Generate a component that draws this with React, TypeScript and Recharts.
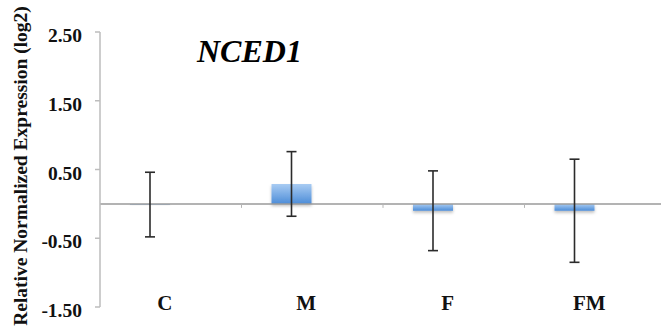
import { ComposedChart, Bar, XAxis, YAxis, ReferenceLine, ErrorBar, Customized } from 'recharts';

const groups = ['C', 'M', 'F', 'FM'];
const expression = [-0.01, 0.29, -0.1, -0.1];
const errors = [0.47, 0.47, 0.58, 0.75];
const yTicks = [2.5, 1.5, 0.5, -0.5, -1.5];

const data = groups.map((g, i) => ({ group: g, value: expression[i], err: errors[i], blank: null }));

const serif = '"Liberation Serif", "Times New Roman", serif';

function YTick({ x, y, payload }: any) {
  return (
    <text x={x} y={y} dy={10} textAnchor="end" fontFamily={serif} fontWeight="bold" fontSize={19.5} fill="#111">
      {Number(payload.value).toFixed(2)}
    </text>
  );
}

function XTick({ x, y, payload }: any) {
  return (
    <text x={x} y={y} dx={-6} dy={3} textAnchor="middle" fontFamily={serif} fontWeight="bold" fontSize={21} fill="#111">
      {payload.value}
    </text>
  );
}

// zero line with small marks between categories
function ZeroLine(props: any) {
  const { x1, y1, x2, y2 } = props;
  const step = (x2 - x1) / groups.length;
  const marks = groups.slice(1).map((_, i) => x1 + step * (i + 1));
  return (
    <g>
      <line x1={x1} y1={y1} x2={x2} y2={y2} stroke="#9a9a9a" strokeWidth={1.5} />
      {marks.map((mx) => (
        <line key={mx} x1={mx} y1={y1} x2={mx} y2={y1 + 4} stroke="#b5b5b5" strokeWidth={1} />
      ))}
    </g>
  );
}

function Texts() {
  return (
    <g>
      <text x={197} y={62} fontFamily={serif} fontWeight="bold" fontStyle="italic" fontSize={32} fill="#000">
        NCED1
      </text>
      <text
        x={27}
        y={166}
        transform="rotate(-90, 27, 166)"
        textAnchor="middle"
        fontFamily={serif}
        fontWeight="bold"
        fontSize={19.5}
        fill="#111"
      >
        Relative Normalized Expression (log2)
      </text>
    </g>
  );
}

export default function App() {
  return (
    <div style={{ position: 'absolute', left: 0, top: 0, width: 661, height: 329, overflow: 'hidden', background: '#fff' }}>
      <ComposedChart
        width={666}
        height={329}
        data={data}
        margin={{ top: 32, right: 0, bottom: 0, left: 0 }}
        barSize={40}
        barGap={1}
      >
        <defs>
          <linearGradient id="barFill" x1="0" y1="0" x2="0" y2="1">
            <stop offset="0%" stopColor="#a9ccf3" />
            <stop offset="100%" stopColor="#4d8dd8" />
          </linearGradient>
          <filter id="barShadow" x="-20%" y="-50%" width="140%" height="220%">
            <feDropShadow dx="0" dy="2" stdDeviation="1.5" floodColor="#000" floodOpacity="0.25" />
          </filter>
        </defs>
        <XAxis
          dataKey="group"
          height={22}
          axisLine={false}
          tickLine={false}
          tickSize={0}
          tickMargin={0}
          tick={<XTick />}
          interval={0}
        />
        <YAxis
          domain={[-1.5, 2.5]}
          ticks={yTicks}
          width={100}
          axisLine={{ stroke: '#bdbdbd', strokeWidth: 1.5 }}
          tickLine={{ stroke: '#bdbdbd', strokeWidth: 1.5 }}
          tickSize={5}
          tickMargin={13}
          tick={<YTick />}
          interval={0}
          allowDataOverflow
        />
        <ReferenceLine y={0} shape={<ZeroLine />} ifOverflow="extendDomain" />
        <Bar dataKey="value" fill="url(#barFill)" filter="url(#barShadow)" isAnimationActive={false}>
          <ErrorBar dataKey="err" width={5} stroke="#2b2b2b" strokeWidth={1.6} direction="y" />
        </Bar>
        <Bar dataKey="blank" fill="transparent" isAnimationActive={false} />
        <Customized component={Texts} />
      </ComposedChart>
    </div>
  );
}
